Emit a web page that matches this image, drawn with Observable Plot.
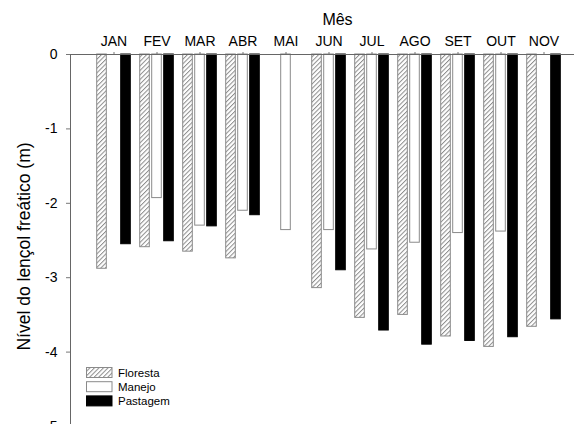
<!DOCTYPE html>
<html>
<head>
<meta charset="utf-8">
<script src="https://cdn.jsdelivr.net/npm/d3@7"></script>
<script src="https://cdn.jsdelivr.net/npm/@observablehq/plot@0.6"></script>
<style>
  html, body { margin: 0; padding: 0; background: #fff; }
  #chart { width: 574px; height: 424px; overflow: hidden; }
</style>
</head>
<body>
<div id="chart"></div>
<script>
const months = ["JAN","FEV","MAR","ABR","MAI","JUN","JUL","AGO","SET","OUT","NOV"];
const floresta = [-2.88, -2.59, -2.65, -2.74, null, -3.14, -3.54, -3.50, -3.79, -3.93, -3.66];
const manejo   = [null, -1.93, -2.30, -2.10, -2.36, -2.36, -2.62, -2.53, -2.40, -2.38, null];
const pastagem = [-2.55, -2.51, -2.31, -2.16, null, -2.90, -3.71, -3.90, -3.85, -3.80, -3.56];
const yTicks = [0, -1, -2, -3, -4, -5];
const seriesNames = ["Floresta", "Manejo", "Pastagem"];
const xTitle = "Mês";
const yTitle = "Nível do lençol freático (m)";

const toRows = vals => months.map((m, i) => ({month: m, value: vals[i]})).filter(d => d.value != null);
const rowsF = toRows(floresta), rowsM = toRows(manejo), rowsP = toRows(pastagem);

const font = "'Liberation Sans', Arial, Helvetica, sans-serif";
const inset = 16.7;
const barStroke = "#8a8a8a";

const chart = Plot.plot({
  width: 574,
  height: 424,
  marginTop: 54,
  marginLeft: 70,
  marginRight: 0,
  marginBottom: 0,
  style: {fontFamily: font, fontSize: "14px", background: "#fff", color: "#000"},
  x: {domain: months, paddingInner: 0, paddingOuter: 0.36, align: 0.70, axis: null},
  y: {domain: [-5, 0], range: [426, 54], axis: null},
  marks: [
    Plot.barY(rowsF, {x: "month", y: "value", dx: -12, insetLeft: inset, insetRight: inset, fill: "url(#hatch)", stroke: barStroke, strokeWidth: 1}),
    Plot.barY(rowsM, {x: "month", y: "value", dx: 0, insetLeft: inset, insetRight: inset, fill: "#fff", stroke: barStroke, strokeWidth: 1}),
    Plot.barY(rowsP, {x: "month", y: "value", dx: 12, insetLeft: inset, insetRight: inset, fill: "#000", stroke: "#000", strokeWidth: 1}),
    Plot.axisX({anchor: "top", tickSize: 3, tickPadding: 6, stroke: "#777", fontSize: 14, label: null}),
    Plot.axisY({anchor: "left", ticks: yTicks, tickSize: 4, tickPadding: 9, stroke: "#777", fontSize: 14, tickFormat: d => String(d), label: null}),
    Plot.frame({anchor: "top", stroke: "#666"}),
    Plot.frame({anchor: "left", stroke: "#666"}),
    Plot.text([xTitle], {frameAnchor: "top", text: d => d, dx: 15, dy: -34.5, fontSize: 16, lineAnchor: "middle", fill: "#000"})
  ]
});

const svg = d3.select(chart);
const defs = svg.insert("defs", ":first-child");
const pat = defs.append("pattern")
  .attr("id", "hatch")
  .attr("patternUnits", "userSpaceOnUse")
  .attr("width", 3.2).attr("height", 3.2)
  .attr("patternTransform", "rotate(45)");
pat.append("rect").attr("width", 3.2).attr("height", 3.2).attr("fill", "#fff");
pat.append("line").attr("x1", 0.5).attr("y1", 0).attr("x2", 0.5).attr("y2", 3.2)
  .attr("stroke", "#8c8c8c").attr("stroke-width", 1);

// y-axis title
svg.append("text")
  .attr("transform", "translate(23.5,246.5) rotate(-90)")
  .attr("text-anchor", "middle")
  .attr("dy", "0.35em")
  .attr("font-family", font)
  .attr("font-size", 17.5)
  .attr("fill", "#000")
  .text(yTitle);

// legend
const legendFills = ["url(#hatch)", "#fff", "#000"];
const legendStrokes = [barStroke, barStroke, "#000"];
const lg = svg.append("g").attr("font-family", font).attr("font-size", 11.5).attr("text-anchor", "start");
seriesNames.forEach((name, i) => {
  const y0 = 367.5 + i * 14.2;
  lg.append("rect").attr("x", 86.5).attr("y", y0).attr("width", 25.5).attr("height", 10)
    .attr("fill", legendFills[i]).attr("stroke", legendStrokes[i]).attr("stroke-width", 1);
  lg.append("text").attr("x", 118).attr("y", y0 + 5).attr("dy", "0.35em")
    .attr("text-anchor", "start").attr("fill", "#000").text(name);
});

document.getElementById("chart").appendChild(chart);
</script>
</body>
</html>
